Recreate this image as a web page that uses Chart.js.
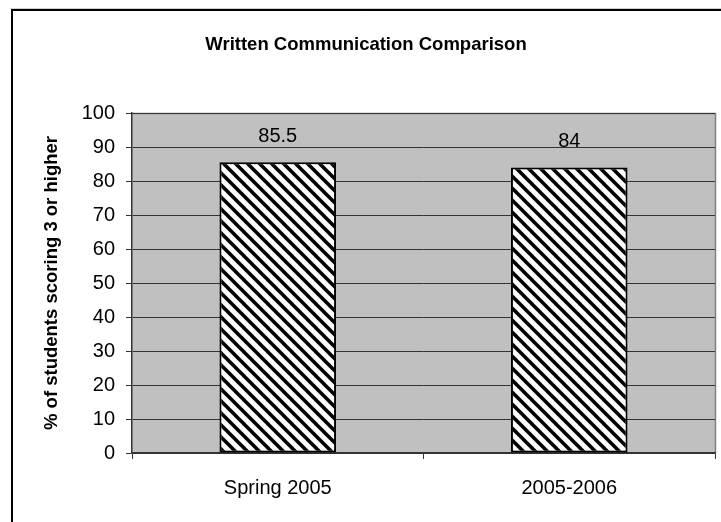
<!DOCTYPE html>
<html>
<head>
<meta charset="utf-8">
<script src="https://cdn.jsdelivr.net/npm/chart.js@4.4.1/dist/chart.umd.min.js"></script>
<style>
  html, body { margin: 0; padding: 0; background: #ffffff; }
  #wrap { width: 721px; height: 522px; }
</style>
</head>
<body>
<div id="wrap"><canvas id="c" width="721" height="522"></canvas></div>
<script>
// Written communication results by assessment period
const categories = ['Spring 2005', '2005-2006'];
const percentScoring3Plus = [85.5, 84];
const yTicks = [0, 10, 20, 30, 40, 50, 60, 70, 80, 90, 100];

const FONT = 'Arial, "Liberation Sans", sans-serif';

// Black/white downward diagonal hatch used for the bars
function makeHatch() {
  const s = 12;
  const p = document.createElement('canvas');
  p.width = s; p.height = s;
  const g = p.getContext('2d');
  g.fillStyle = '#ffffff';
  g.fillRect(0, 0, s, s);
  g.strokeStyle = '#000000';
  g.lineWidth = 3.6;
  g.beginPath();
  g.moveTo(-s, -s); g.lineTo(2 * s, 2 * s);
  g.moveTo(-s, 0); g.lineTo(s, 2 * s);
  g.moveTo(0, -s); g.lineTo(2 * s, s);
  g.stroke();
  return document.getElementById('c').getContext('2d').createPattern(p, 'repeat');
}

// Outer frame plus grey plot background
const framePlugin = {
  id: 'frame',
  beforeDraw(chart) {
    const ctx = chart.ctx;
    const a = chart.chartArea;
    ctx.save();
    ctx.fillStyle = '#ffffff';
    ctx.fillRect(0, 0, chart.width, chart.height);
    ctx.strokeStyle = '#d0d0d0';
    ctx.lineWidth = 1;
    ctx.beginPath();
    ctx.moveTo(10, 8.5); ctx.lineTo(chart.width, 8.5);
    ctx.stroke();
    ctx.strokeStyle = '#000000';
    ctx.lineWidth = 2;
    ctx.strokeRect(12, 10, chart.width + 20, chart.height + 20);
    ctx.fillStyle = '#c0c0c0';
    ctx.fillRect(a.left, a.top, a.right - a.left, a.bottom - a.top);
    ctx.strokeStyle = '#808080';
    ctx.lineWidth = 1.5;
    ctx.beginPath();
    ctx.moveTo(a.left, a.top + 0.5);
    ctx.lineTo(a.right + 0.5, a.top + 0.5);
    ctx.lineTo(a.right + 0.5, a.bottom);
    ctx.stroke();
    ctx.restore();
  }
};

// Value labels above each bar
const valueLabels = {
  id: 'valueLabels',
  afterDatasetsDraw(chart) {
    const ctx = chart.ctx;
    const meta = chart.getDatasetMeta(0);
    const data = chart.data.datasets[0].data;
    ctx.save();
    ctx.font = '20px ' + FONT;
    ctx.fillStyle = '#000000';
    ctx.textAlign = 'center';
    ctx.textBaseline = 'middle';
    meta.data.forEach((bar, i) => {
      ctx.fillText(String(data[i]), bar.x, bar.y - 26);
    });
    ctx.restore();
  }
};

new Chart(document.getElementById('c'), {
  type: 'bar',
  data: {
    labels: categories,
    datasets: [{
      data: percentScoring3Plus,
      backgroundColor: makeHatch(),
      borderColor: '#000000',
      borderWidth: 2,
      borderSkipped: false,
      categoryPercentage: 0.8,
      barPercentage: 0.5
    }]
  },
  options: {
    responsive: false,
    animation: false,
    devicePixelRatio: 1,
    layout: { padding: { left: 17, top: 0, right: 6, bottom: 0 } },
    plugins: {
      legend: { display: false },
      tooltip: { enabled: false },
      title: {
        display: true,
        text: 'Written Communication Comparison',
        color: '#000000',
        font: { family: FONT, size: 18.5, weight: 'bold' },
        padding: { top: 34, bottom: 56.8 }
      }
    },
    scales: {
      x: {
        grid: {
          display: true,
          drawOnChartArea: false,
          drawTicks: true,
          tickLength: 6,
          color: '#333333',
          offset: true
        },
        border: { display: true, color: '#333333', width: 1.5 },
        ticks: {
          color: '#000000',
          font: { family: FONT, size: 20 },
          padding: 17,
          maxRotation: 0
        },
        afterFit(scale) { scale.height = 69; }
      },
      y: {
        min: 0,
        max: 100,
        afterBuildTicks(scale) { scale.ticks = yTicks.map(v => ({ value: v })); },
        grid: {
          color: '#333333',
          lineWidth: 1,
          drawTicks: true,
          tickLength: 6
        },
        border: { display: true, color: '#333333', width: 1.5 },
        ticks: {
          color: '#000000',
          font: { family: FONT, size: 20 },
          padding: 11
        },
        title: {
          display: true,
          text: '% of students scoring 3 or higher',
          color: '#000000',
          font: { family: FONT, size: 18.5, weight: 'bold' },
          padding: { top: 24, bottom: 0 }
        },
        afterFit(scale) { scale.width = 115; }
      }
    }
  },
  plugins: [framePlugin, valueLabels]
});
</script>
</body>
</html>
